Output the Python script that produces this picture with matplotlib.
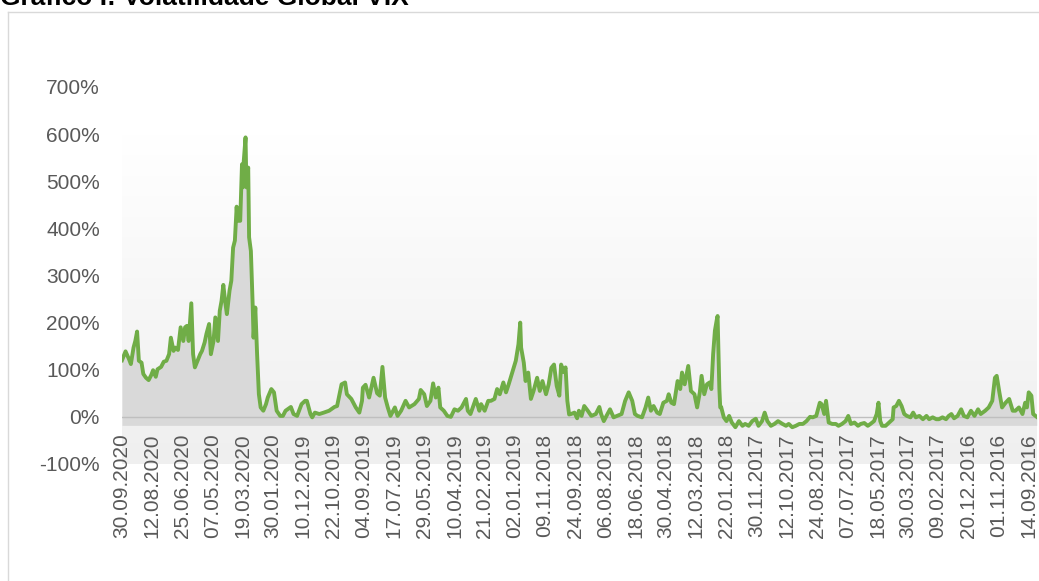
import matplotlib
matplotlib.use("Agg")
import matplotlib.pyplot as plt
import numpy as np
from matplotlib.colors import LinearSegmentedColormap

plt.rcParams['font.family'] = ['Liberation Sans', 'DejaVu Sans']
plt.rcParams['axes.unicode_minus'] = False

TITLE = "Gráfico I: Volatilidade Global VIX"

# trading days counted back from 30.09.2020, and VIX level in %
trading_day = [
    0, 4, 8, 10, 13, 15, 17, 19, 22, 24, 27, 30, 33, 35, 38, 40, 44, 47, 50, 53,
    55, 58, 60, 63, 66, 69, 71, 73, 75, 78, 80, 82, 85, 88, 90, 93, 95, 98, 100, 103,
    105, 108, 110, 112, 114, 116, 118, 121, 123, 125, 127, 129, 130, 133, 135, 136, 137, 139, 140, 142,
    143, 145, 147, 148, 150, 152, 154, 156, 159, 162, 164,
    168, 171, 174, 178, 181, 184, 190, 193, 197, 202, 206, 208, 212, 214, 217, 222, 227, 233, 239, 242,
    247, 251, 253, 258, 263, 267, 270, 271, 274, 278, 283, 287, 290, 293, 296, 299, 302, 307, 310, 314,
    319, 323, 329, 334,
    336, 340, 343, 347, 350, 353, 356, 358, 362, 366, 370, 374, 378, 382, 387, 389, 392, 398, 402, 404,
    408, 412, 415, 419, 422, 425, 429, 432, 435, 439, 443, 446, 448, 449, 452, 454, 457, 460, 463, 467,
    470, 473, 477, 480, 483, 486, 489, 492, 494, 497, 499, 501, 503,
    505, 509, 512, 514, 517, 520, 524, 528, 533, 537, 539, 542, 545, 549, 553, 557, 562, 566, 570, 574,
    577, 580, 585, 589, 592, 595, 598, 602, 605, 609, 613, 615, 618, 621, 625, 628, 630, 633, 637, 640,
    644, 647, 650, 652, 655, 658, 661, 663, 665, 667, 669, 670, 672, 673,
    674, 677, 680, 683, 686, 690, 694, 698, 701, 705, 709, 713, 716, 720, 723, 726, 730, 734, 738, 743,
    747, 750, 754, 758, 762, 766, 770, 774, 777, 781, 785, 787, 790, 792, 795, 799, 803, 806, 810, 814,
    817, 820, 824, 828, 831, 835,
    839, 842, 846, 849, 851, 853, 855, 859, 863, 867, 868, 871, 874, 877, 880, 883, 887, 890, 893, 897,
    901, 905, 908, 912, 916, 919, 923, 927, 930, 933, 936, 940, 944, 947, 951, 955, 959, 963, 966, 971,
    975, 979, 982, 984, 987, 990, 994, 998, 1002, 1005, 1009, 1013, 1016, 1018, 1020, 1023, 1025, 1029,
]
vix_pct = [
    120, 139, 122, 112, 147, 161, 181, 119, 115, 91, 83, 78, 89, 99, 85, 101, 106, 117, 119, 133,
    168, 140, 147, 142, 190, 161, 190, 193, 161, 241, 133, 105, 119, 133, 140, 158, 176, 197, 133, 161,
    211, 161, 225, 246, 280, 246, 218, 268, 289, 359, 374, 446, 416, 416, 536, 487, 543, 593, 487, 529,
    381, 352, 239, 168, 232, 133, 48, 20, 13, 27, 41,
    59, 52, 13, 2, 2, 13, 21, 6, 2, 27, 34, 34, 6, -1, 9, 6, 9, 13, 21, 23,
    69, 73, 48, 38, 20, 9, 34, 62, 68, 41, 83, 50, 45, 106, 41, 20, 2, 20, 2, 13,
    34, 20, 27, 38,
    57, 48, 23, 34, 71, 41, 62, 20, 13, 2, 0, 16, 13, 20, 38, 13, 6, 38, 13, 27,
    13, 34, 34, 38, 59, 48, 73, 52, 69, 94, 119, 154, 200, 147, 115, 76, 94, 38, 55, 83,
    55, 76, 48, 69, 104, 111, 66, 45, 111, 95, 105, 34, 5,
    6, 9, -3, 13, 2, 23, 13, 2, 6, 21, 6, -9, 2, 16, -1, 2, 6, 34, 52, 34,
    6, 2, -1, 20, 41, 13, 23, 9, 6, 30, 34, 48, 30, 27, 76, 59, 94, 69, 108, 55,
    48, 20, 52, 87, 48, 69, 73, 59, 133, 183, 205, 214, 60, 20,
    21, -1, -9, 2, -12, -22, -9, -19, -15, -19, -9, -4, -19, -9, 9, -9, -19, -15, -9, -15,
    -19, -15, -22, -19, -15, -15, -9, 0, -1, 2, 30, 27, 6, 34, -12, -15, -15, -19, -15, -9,
    2, -15, -12, -19, -15, -13,
    -19, -15, -9, 6, 30, -9, -19, -19, -12, -5, 20, 23, 34, 23, 6, 2, -1, 9, -1, 2,
    -5, 2, -5, -1, -5, -5, -1, -5, 2, 6, -3, 2, 16, 2, -1, 13, 2, 16, 6, 13,
    20, 34, 83, 87, 52, 20, 30, 38, 13, 13, 20, 6, 30, 20, 52, 45, 6, 0,
]

date_labels = [
    "30.09.2020", "12.08.2020", "25.06.2020", "07.05.2020", "19.03.2020", "30.01.2020",
    "10.12.2019", "22.10.2019", "04.09.2019", "17.07.2019", "29.05.2019", "10.04.2019",
    "21.02.2019", "02.01.2019", "09.11.2018", "24.09.2018", "06.08.2018", "18.06.2018",
    "30.04.2018", "12.03.2018", "22.01.2018", "30.11.2017", "12.10.2017", "24.08.2017",
    "07.07.2017", "18.05.2017", "30.03.2017", "09.02.2017", "20.12.2016", "01.11.2016",
    "14.09.2016",
]
LABEL_STEP = 34  # one label every 34 trading days
y_ticks = [-100, 0, 100, 200, 300, 400, 500, 600, 700]

fig = plt.figure(figsize=(10.39, 5.81), dpi=100)
ax = fig.add_axes([0.1174, 0.2014, 0.8804, 0.6489])

x_end = trading_day[-1]

# plot area background: soft vertical gradient
grad = LinearSegmentedColormap.from_list("bg", ["#efefef", "#ffffff"])
ax.imshow(np.linspace(0, 1, 256).reshape(-1, 1)[::-1], cmap=grad, aspect='auto',
          extent=[0, x_end, -100, 600], origin='upper', zorder=0)

base = -18
ax.fill_between(trading_day, vix_pct, base, color="#d9d9d9", lw=0, zorder=1)
ax.axhline(0, color="#bfbfbf", lw=1, zorder=2)
ax.plot(trading_day, vix_pct, color="#70ad47", lw=2.8, solid_joinstyle='round', zorder=3)

ax.set_xlim(0, x_end)
ax.set_ylim(-100, 700)

ax.set_yticks(y_ticks)
ax.set_yticklabels([f"{v}%" for v in y_ticks])
ax.set_xticks(range(0, LABEL_STEP * len(date_labels), LABEL_STEP))
ax.set_xticklabels(date_labels, rotation=90)
ax.tick_params(axis='y', length=0, pad=16, labelsize=15, labelcolor="#595959")
ax.tick_params(axis='x', length=0, pad=-22, labelsize=15, labelcolor="#595959")
for s in ax.spines.values():
    s.set_visible(False)

# chart border (only left/top inside the crop) and the title, cut at the top as in the source
fig.add_artist(plt.Line2D([8 / 1039, 8 / 1039], [0, 1 - 12 / 581], transform=fig.transFigure,
                          color="#d9d9d9", lw=1))
fig.add_artist(plt.Line2D([8 / 1039, 1], [1 - 12 / 581, 1 - 12 / 581], transform=fig.transFigure,
                          color="#d9d9d9", lw=1))
fig.text(0.0, 1 - 5 / 581, TITLE, fontsize=19, fontweight='bold', color="black",
         ha='left', va='baseline')

fig.savefig("out.png", dpi=100)
